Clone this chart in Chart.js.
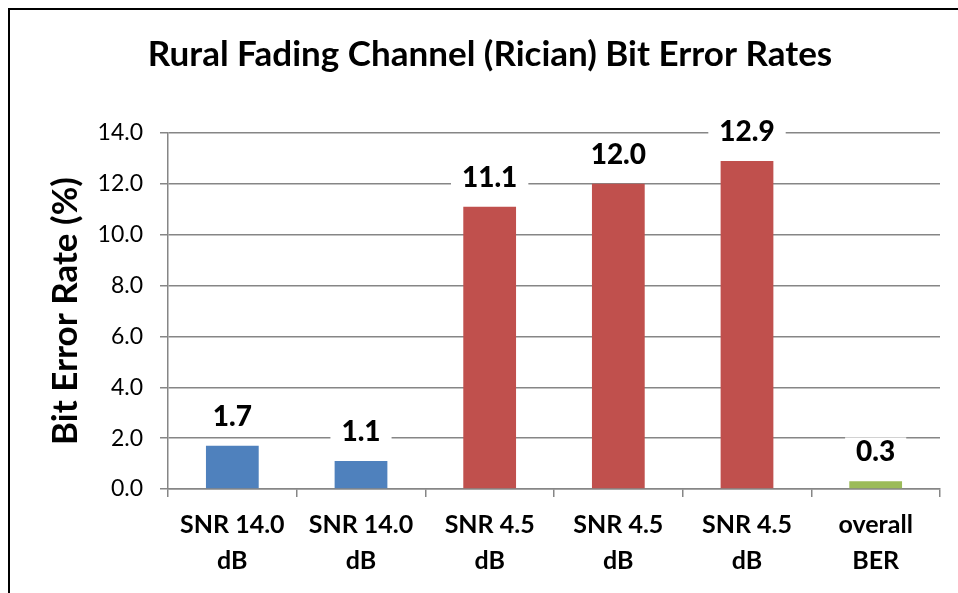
<!DOCTYPE html>
<html>
<head>
<meta charset="utf-8">
<script src="https://cdn.jsdelivr.net/npm/chart.js@4.4.1/dist/chart.umd.min.js"></script>
<style>
  html, body { margin: 0; padding: 0; background: #fff; }
  #wrap { width: 958px; height: 593px; position: relative; }
</style>
</head>
<body>
<div id="wrap"><canvas id="berChart" width="958" height="593"></canvas></div>
<script>
const categories = [
    ["SNR 14.0", "dB"],
    ["SNR 14.0", "dB"],
    ["SNR 4.5", "dB"],
    ["SNR 4.5", "dB"],
    ["SNR 4.5", "dB"],
    ["overall", "BER"]
];
const berValues = [1.7, 1.1, 11.1, 12.0, 12.9, 0.3];
const barColors = ["#4F81BD", "#4F81BD", "#C0504D", "#C0504D", "#C0504D", "#9BBB59"];
const yTicks = [0, 2, 4, 6, 8, 10, 12, 14];

const FONT = "Lato, 'Open Sans', sans-serif";
const GRID = "#868686";

// frame around the whole chart (cropped on right/bottom like the original)
const framePlugin = {
    id: "frame",
    beforeDraw(chart) {
        const ctx = chart.ctx;
        ctx.save();
        ctx.fillStyle = "#fff";
        ctx.fillRect(0, 0, chart.width, chart.height);
        ctx.strokeStyle = "#000";
        ctx.lineWidth = 2;
        ctx.strokeRect(9, 9, chart.width + 20, chart.height + 20);
        ctx.restore();
    }
};

// value labels with a white box behind them
const valueLabels = {
    id: "valueLabels",
    afterDatasetsDraw(chart) {
        const ctx = chart.ctx;
        const meta = chart.getDatasetMeta(0);
        ctx.save();
        ctx.font = "900 28px " + FONT;
        ctx.textAlign = "center";
        ctx.textBaseline = "middle";
        meta.data.forEach((bar, i) => {
            const txt = berValues[i].toFixed(1);
            const w = ctx.measureText(txt).width + 22;
            const y = bar.y - 30;
            ctx.fillStyle = "#fff";
            ctx.fillRect(bar.x - w / 2, y - 14, w, 28);
            ctx.fillStyle = "#000";
            ctx.fillText(txt, bar.x, y + 1);
        });
        ctx.restore();
    }
};

const ctx = document.getElementById("berChart").getContext("2d");
new Chart(ctx, {
    type: "bar",
    data: {
        labels: categories,
        datasets: [{
            data: berValues,
            backgroundColor: barColors,
            borderWidth: 0,
            barPercentage: 0.41,
            categoryPercentage: 1.0
        }]
    },
    options: {
        responsive: false,
        animation: false,
        layout: { padding: { left: 40, right: 18, top: 0, bottom: 0 } },
        plugins: {
            legend: { display: false },
            tooltip: { enabled: false },
            title: {
                display: true,
                text: "Rural Fading Channel (Rician) Bit Error Rates",
                font: { family: FONT, size: 35, weight: "bold", lineHeight: 1.2 },
                color: "#000",
                padding: { top: 34, bottom: 57 }
            }
        },
        scales: {
            x: {
                grid: {
                    offset: true,
                    drawOnChartArea: false,
                    tickLength: 8,
                    color: GRID,
                    lineWidth: 1.5
                },
                border: { color: GRID, width: 1.5 },
                ticks: {
                    color: "#000",
                    padding: 10,
                    maxRotation: 0,
                    font: { family: FONT, size: 25, weight: "bold", lineHeight: 1.44 }
                },
                afterFit: (scale) => { scale.height = 104; }
            },
            y: {
                min: 0,
                max: 14,
                afterBuildTicks: (scale) => { scale.ticks = yTicks.map(v => ({ value: v })); },
                grid: { color: GRID, lineWidth: 1.5, tickLength: 8 },
                border: { color: GRID, width: 1.5 },
                ticks: {
                    color: "#000",
                    padding: 17,
                    font: { family: FONT, size: 23 },
                    callback: (v) => Number(v).toFixed(1)
                },
                title: {
                    display: true,
                    text: "Bit Error Rate (%)",
                    color: "#000",
                    font: { family: FONT, size: 35, weight: "bold", lineHeight: 1.2 },
                    padding: { top: 5, bottom: 0 }
                },
                afterFit: (scale) => { scale.width = 128; }
            }
        }
    },
    plugins: [framePlugin, valueLabels]
});
</script>
</body>
</html>
